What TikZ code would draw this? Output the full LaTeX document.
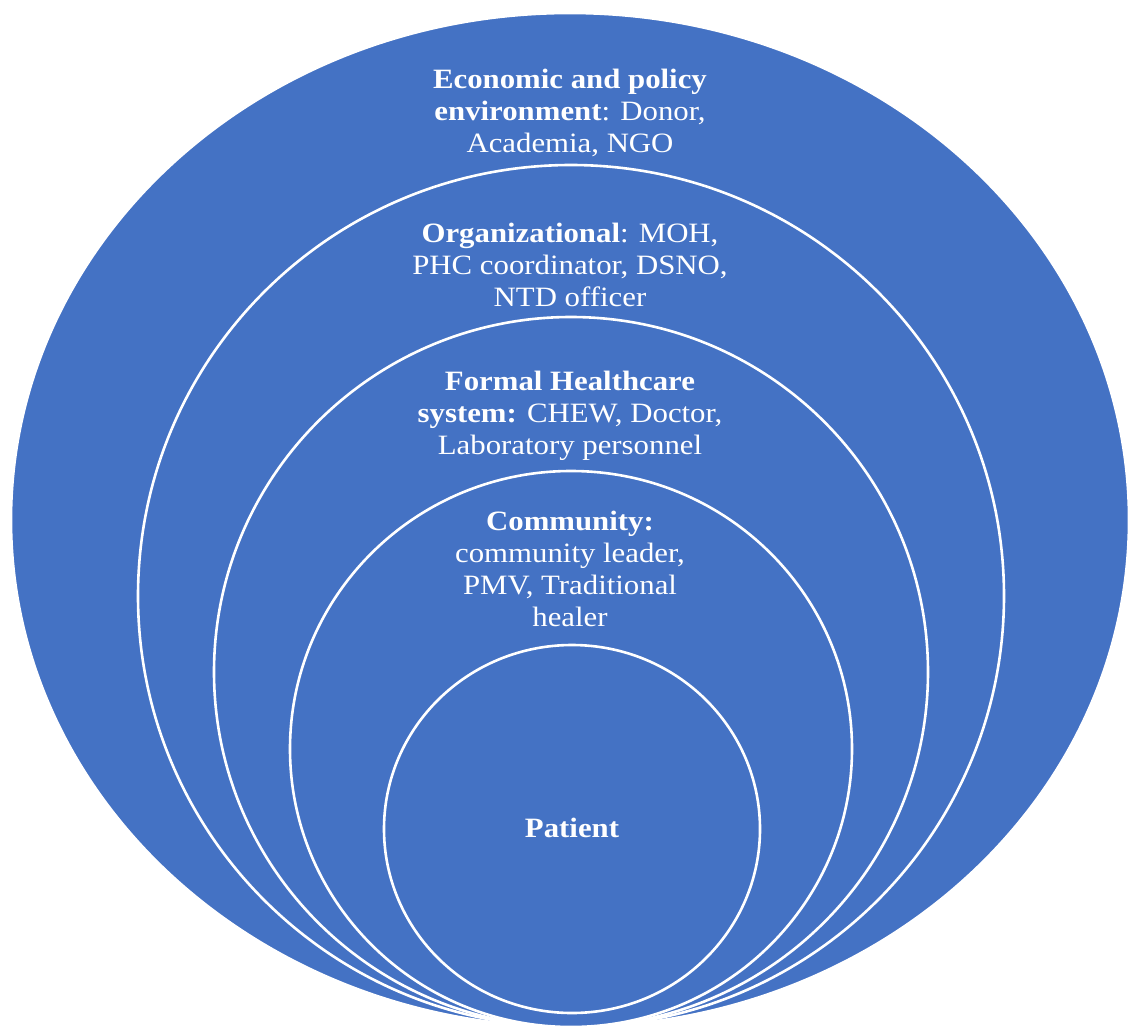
\documentclass[tikz,border=0pt]{standalone}
\usepackage{fontspec}
\setmainfont{Liberation Serif}[FakeStretch=1.1]
\usetikzlibrary{shapes.geometric}

\definecolor{ringblue}{HTML}{4472C4}
\tikzset{
  ring/.style={ellipse, draw=white, fill=ringblue, line width=2.6pt, inner sep=0pt},
  label/.style={text=white, align=center, font=\fontsize{28}{32}\selectfont}
}

\begin{document}
\begin{tikzpicture}[x=1pt,y=-1pt]
\useasboundingbox[fill=white] (0,0) rectangle (1130,1030);
% nested rings, all resting on the bottom
\node[ring, minimum width=1118, minimum height=1014] (econ) at (570,520) {};
\node[ring, minimum width=866, minimum height=862] (org) at (571,596) {};
\node[ring, minimum width=714, minimum height=710] (formal) at (571,672) {};
\node[ring, minimum width=562, minimum height=556] (comm) at (571,749) {};
\node[ring, minimum width=376, minimum height=368] (patient) at (572,829) {};
% texts
\node[label] (econtext) at (570,113) {\textbf{Economic and policy}\\\textbf{environment}: Donor,\\Academia, NGO};
\node[label] (orgtext) at (570,265) {\textbf{Organizational}: MOH,\\PHC coordinator, DSNO,\\NTD officer};
\node[label] (formaltext) at (570,416) {\textbf{Formal Healthcare}\\\textbf{system:} CHEW, Doctor,\\Laboratory personnel};
\node[label] (commtext) at (570,569) {\textbf{Community:}\\community leader,\\PMV, Traditional\\healer};
\node[label] (patienttext) at (572,828) {\textbf{Patient}};
\end{tikzpicture}
\end{document}
